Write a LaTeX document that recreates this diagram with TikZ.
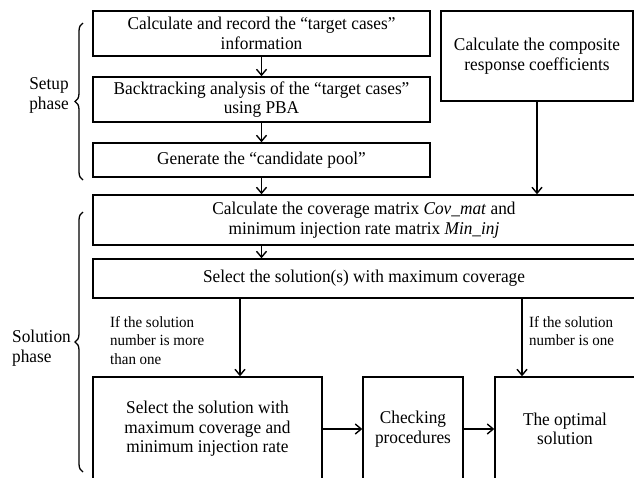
\documentclass[tikz,border=0pt]{standalone}
\usepackage{fontspec}
\setmainfont[FakeStretch=0.96]{Liberation Serif}
\usetikzlibrary{arrows.meta,decorations.pathreplacing}
\tikzset{
  box/.style={draw, line width=1.4pt, inner sep=0pt, align=center,
    font=\fontsize{18}{19.5}\selectfont},
  arr/.style={line width=1.4pt, -{Straight Barb[length=6pt,width=10pt,line width=1.4pt]}},
  lbl/.style={font=\fontsize{15.6}{18.5}\selectfont, inner sep=0pt, align=left, anchor=north west},
  phase/.style={font=\fontsize{18}{20}\selectfont, inner sep=0pt},
  brc/.style={decorate, decoration={brace, amplitude=8pt}, line width=1.3pt}
}
\begin{document}
\begin{tikzpicture}[x=1pt,y=-1pt]
\clip (0,0) rectangle (634,477);
\fill[white] (0,0) rectangle (634,477);
% setup boxes
\node[box, minimum width=337pt, minimum height=45pt] (b1) at (261.5,33.5)
  {Calculate and record the “target cases”\\information};
\node[box, minimum width=337pt, minimum height=45pt] (b2) at (261.5,99.5)
  {Backtracking analysis of the “target cases”\\using PBA};
\node[box, minimum width=337pt, minimum height=34pt] (b3) at (261.5,160)
  {Generate the “candidate pool”};
\node[box, minimum width=192pt, minimum height=90pt] (r1) at (537,56)
  {Calculate the composite\\response coefficients};
% solution boxes
\node[box, minimum width=542pt, minimum height=50pt] (b4) at (364,220)
  {Calculate the coverage matrix \textit{Cov\_mat} and\\minimum injection rate matrix \textit{Min\_inj}};
\node[box, minimum width=542pt, minimum height=39pt] (b5) at (364,278.5)
  {Select the solution(s) with maximum coverage};
\node[box, minimum width=229pt, minimum height=104pt] (b6) at (207.5,429)
  {Select the solution with\\maximum coverage and\\minimum injection rate};
\node[box, minimum width=100pt, minimum height=104pt] (b7) at (413,429)
  {Checking\\procedures};
\node[box, minimum width=140pt, minimum height=104pt] (b8) at (565,429)
  {The optimal\\solution};
% arrows
\draw[arr] (b1.south) -- (b2.north);
\draw[arr] (b2.south) -- (b3.north);
\draw[arr] (b3.south) -- (b3.south |- b4.north);
\draw[arr] (r1.south) -- (r1.south |- b4.north);
\draw[arr] (b4.south -| b3.south) -- (b5.north -| b3.south);
\coordinate (s1) at (240,298);
\coordinate (s2) at (522,298);
\draw[arr] (s1) -- (s1 |- b6.north);
\draw[arr] (s2) -- (s2 |- b8.north);
\draw[arr] (b6.east) -- (b7.west);
\draw[arr] (b7.east) -- (b8.west);
% labels
\node[lbl] (l1) at (110,316) {If the solution\\number is more\\than one};
\node[lbl] (l2) at (529,316) {If the solution\\number is one};
% braces
\coordinate (sb1) at (83,180);
\coordinate (st1) at (83,23);
\draw[brc] (sb1) -- (st1);
\node[phase, align=center] (ph1) at (49,95) {Setup\\phase};
\coordinate (sb2) at (83,472);
\coordinate (st2) at (83,212);
\draw[brc] (sb2) -- (st2);
\node[phase, align=left, anchor=west] (ph2) at (12,348) {Solution\\phase};
\end{tikzpicture}
\end{document}
